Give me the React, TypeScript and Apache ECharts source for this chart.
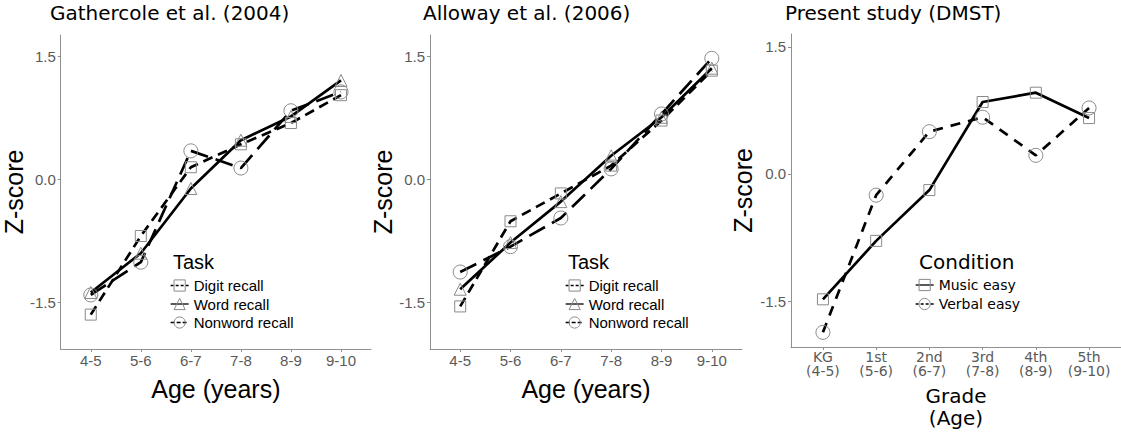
import React, { useEffect, useRef } from "react";
import * as echarts from "echarts";

const ageLabels = ["4-5", "5-6", "6-7", "7-8", "8-9", "9-10"];
const gradeLabels = ["KG\n(4-5)", "1st\n(5-6)", "2nd\n(6-7)", "3rd\n(7-8)", "4th\n(8-9)", "5th\n(9-10)"];
const yTicks = [-1.5, 0, 1.5];

const panelTitles = ["Gathercole et al. (2004)", "Alloway et al. (2006)", "Present study (DMST)"];
const taskNames = ["Digit recall", "Word recall", "Nonword recall"];
const conditionNames = ["Music easy", "Verbal easy"];

const gathercoleDigit = [-1.65, -0.69, 0.15, 0.43, 0.69, 1.03];
const gathercoleWord = [-1.38, -0.9, -0.11, 0.48, 0.77, 1.21];
const gathercoleNonword = [-1.41, -1.01, 0.35, 0.14, 0.84, 1.07];

const allowayDigit = [-1.55, -0.51, -0.17, 0.17, 0.72, 1.33];
const allowayWord = [-1.34, -0.77, -0.27, 0.29, 0.76, 1.36];
const allowayNonword = [-1.13, -0.82, -0.47, 0.13, 0.8, 1.48];

const dmstMusic = [-1.48, -0.79, -0.19, 0.85, 0.96, 0.66];
const dmstVerbal = [-1.87, -0.25, 0.5, 0.67, 0.22, 0.78];

const SANS = "Liberation Sans";
const DEJA = "DejaVu Sans";
const AXIS_GREY = "#8f8f8f";
const LABEL_GREY = "#5a5a5a";
const MARK_GREY = "#8a8a8a";

const DIGIT_DASH = [10, 6];
const NONWORD_DASH = [18, 8];
const VERBAL_DASH = [10, 8];

function series(name: string, values: number[], idx: number, symbol: string, size: number, dash: any) {
  return {
    type: "line",
    name,
    xAxisIndex: idx,
    yAxisIndex: idx,
    data: values.map((v, i) => [i + 1, v]),
    symbol,
    symbolSize: size,
    showSymbol: true,
    lineStyle: { color: "#000", width: 2.7, type: dash, cap: "butt" },
    itemStyle: { color: "rgba(0,0,0,0)", borderColor: MARK_GREY, borderWidth: 1 },
    emphasis: { disabled: true },
  };
}

function xAxis(idx: number, labels: string[], dejavu: boolean, nameText: string, nameGap: number) {
  return {
    type: "value",
    gridIndex: idx,
    min: 0.4,
    max: 6.6,
    name: nameText,
    nameLocation: "middle",
    nameGap,
    nameTextStyle: dejavu
      ? { fontFamily: DEJA, fontSize: 20, color: "#000", lineHeight: 22 }
      : { fontFamily: SANS, fontSize: 25, color: "#000" },
    splitLine: { show: false },
    axisLine: { show: true, onZero: false, lineStyle: { color: AXIS_GREY, width: 1 } },
    axisTick: { show: true, length: 3, customValues: [1, 2, 3, 4, 5, 6], lineStyle: { color: AXIS_GREY } },
    axisLabel: {
      customValues: [1, 2, 3, 4, 5, 6],
      formatter: (v: number) => labels[Math.round(v) - 1],
      margin: dejavu ? 3 : 4,
      color: LABEL_GREY,
      fontFamily: dejavu ? DEJA : SANS,
      fontSize: dejavu ? 14 : 15,
      lineHeight: dejavu ? 14 : 15,
    },
  };
}

function yAxis(idx: number, min: number, max: number, nameGap: number) {
  return {
    type: "value",
    gridIndex: idx,
    min,
    max,
    name: "Z-score",
    nameLocation: "middle",
    nameGap,
    nameTextStyle: { fontFamily: SANS, fontSize: 25, color: "#000" },
    splitLine: { show: false },
    axisLine: { show: true, onZero: false, lineStyle: { color: AXIS_GREY, width: 1 } },
    axisTick: { show: true, length: 3, customValues: yTicks, lineStyle: { color: AXIS_GREY } },
    axisLabel: {
      customValues: yTicks,
      formatter: (v: number) => v.toFixed(1),
      margin: 5,
      color: LABEL_GREY,
      fontFamily: SANS,
      fontSize: 15,
    },
  };
}

function legendItem(name: string, dash: any) {
  return {
    name,
    lineStyle: { color: "#000", width: 1.3, type: dash },
    itemStyle: { color: "rgba(0,0,0,0)", borderColor: MARK_GREY, borderWidth: 1 },
  };
}

function legend(items: any[], left: number, top: number, dejavu: boolean) {
  return {
    data: items,
    orient: "vertical",
    left,
    top,
    padding: 0,
    itemWidth: 18,
    itemHeight: 14,
    itemGap: dejavu ? 5 : 3.5,
    selectedMode: false,
    textStyle: { fontFamily: dejavu ? DEJA : SANS, fontSize: dejavu ? 14 : 15, color: "#000" },
  };
}

export default function App() {
  const ref = useRef<HTMLDivElement>(null);
  useEffect(() => {
    if (!ref.current) return;
    const chart = echarts.init(ref.current, undefined, { renderer: "svg" });
    const taskLegend = [
      legendItem(taskNames[0], [3, 2]),
      legendItem(taskNames[1], "solid"),
      legendItem(taskNames[2], [4, 2]),
    ];
    const condLegend = [legendItem(conditionNames[0], "solid"), legendItem(conditionNames[1], [3, 2])];
    const titleStyle = (family: string) => ({ fontFamily: family, fontSize: 20, fontWeight: "normal", color: "#000" });
    chart.setOption({
      animation: false,
      backgroundColor: "#fff",
      title: [
        { text: panelTitles[0], left: 50, top: 3, padding: 0, textStyle: titleStyle(DEJA) },
        { text: panelTitles[1], left: 423, top: 3, padding: 0, textStyle: titleStyle(DEJA) },
        { text: panelTitles[2], left: 785, top: 3, padding: 0, textStyle: titleStyle(DEJA) },
        { text: "Task", left: 173, top: 252, padding: 0, textStyle: titleStyle(SANS) },
        { text: "Task", left: 568, top: 252, padding: 0, textStyle: titleStyle(SANS) },
        { text: "Condition", left: 919, top: 252, padding: 0, textStyle: titleStyle(DEJA) },
      ],
      legend: [
        legend(taskLegend, 170, 278, false),
        legend(taskLegend, 565, 278, false),
        legend(condLegend, 915, 278, true),
      ],
      grid: [
        { left: 59, top: 35, width: 312, height: 314 },
        { left: 430, top: 35, width: 312, height: 314 },
        { left: 791, top: 34, width: 334, height: 313 },
      ],
      xAxis: [
        xAxis(0, ageLabels, false, "Age (years)", 27),
        xAxis(1, ageLabels, false, "Age (years)", 27),
        xAxis(2, gradeLabels, true, "Grade\n(Age)", 38),
      ],
      yAxis: [yAxis(0, -2.07, 1.765, 34), yAxis(1, -2.07, 1.765, 35), yAxis(2, -2.043, 1.653, 36)],
      series: [
        series(taskNames[0], gathercoleDigit, 0, "rect", 11, DIGIT_DASH),
        series(taskNames[1], gathercoleWord, 0, "triangle", 12, "solid"),
        series(taskNames[2], gathercoleNonword, 0, "circle", 14, NONWORD_DASH),
        series(taskNames[0], allowayDigit, 1, "rect", 11, DIGIT_DASH),
        series(taskNames[1], allowayWord, 1, "triangle", 12, "solid"),
        series(taskNames[2], allowayNonword, 1, "circle", 14, NONWORD_DASH),
        series(conditionNames[0], dmstMusic, 2, "rect", 11, "solid"),
        series(conditionNames[1], dmstVerbal, 2, "circle", 14, VERBAL_DASH),
      ],
    });
    return () => chart.dispose();
  }, []);
  return <div ref={ref} style={{ position: "fixed", left: 0, top: 0, width: 1121, height: 436 }} />;
}
